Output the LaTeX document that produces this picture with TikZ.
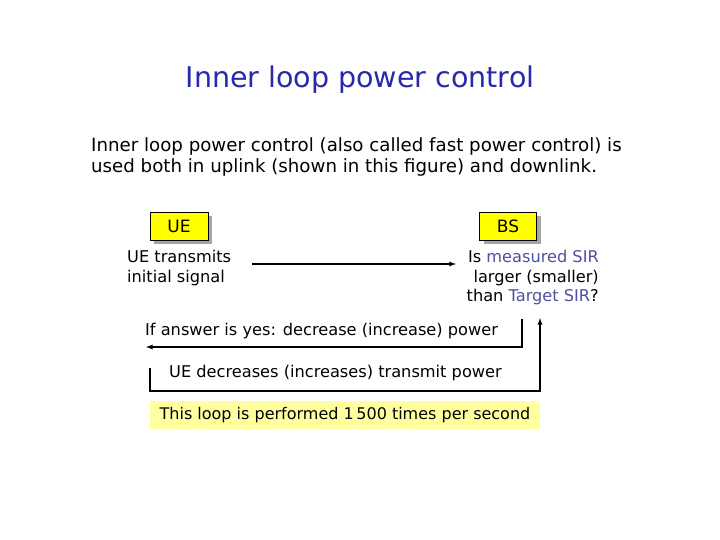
\documentclass[tikz,border=0pt]{standalone}
\usepackage{fontspec}
\setmainfont{DejaVu Sans}
\definecolor{tblue}{RGB}{40,40,170}
\definecolor{sblue}{RGB}{80,80,160}
\definecolor{boxy}{RGB}{255,255,0}
\definecolor{hly}{RGB}{255,255,160}
\begin{document}
\begin{tikzpicture}[x=1pt,y=-1pt,
  lbl/.style={font=\fontsize{16.2}{20}\selectfont, inner sep=0pt},
  tag/.style={draw=black, fill=boxy, minimum width=58pt, minimum height=28pt, font=\fontsize{17}{18}\selectfont, inner sep=0pt},
  shadow/.style={fill=gray!70, draw=none},
  thin/.style={line width=1.3pt,-latex},
  thick/.style={line width=2.8pt}]
\useasboundingbox[fill=white] (0,0) rectangle (720,540);
\node[text=tblue, font=\fontsize{28.5}{30}\selectfont] (title) at (360,80) {Inner loop power control};
\node[lbl, anchor=west, align=left, font=\fontsize{18.2}{21.5}\selectfont] (intro) at (91,157) {Inner loop power control (also called fast power control) is\\used both in uplink (shown in this figure) and downlink.};
\fill[shadow] (154,216) rectangle (212,244);
\node[tag] (ue) at (179,226) {UE};
\fill[shadow] (484,216) rectangle (541,244);
\node[tag, minimum width=57pt] (bs) at (508,226) {BS};
\node[lbl, anchor=north west, align=left] (uet) at (127,250) {UE transmits\\initial signal};
\node[lbl, anchor=north east, align=right, font=\fontsize{16.2}{19.5}\selectfont] (bst) at (599,250) {Is \textcolor{sblue}{measured SIR}\\larger (smaller)\\than \textcolor{sblue}{Target SIR}?};
\coordinate (a1) at (252,264);
\coordinate (a2) at (456,264);
\draw[thin] (a1) -- (a2);
\node[lbl, anchor=west] (ans) at (145,331) {If answer is yes: decrease (increase) power};
\coordinate (b1) at (522,319);
\coordinate (b2) at (522,347);
\coordinate (b3) at (146,347);
\draw[line width=2.5pt] (b1) -- (b2) -- (160,347);
\draw[line width=1.3pt,-latex] (160,347) -- (b3);
\node[lbl, anchor=west] (dec) at (169,373) {UE decreases (increases) transmit power};
\coordinate (c1) at (150,368);
\coordinate (c4) at (540,318);
\draw[thick] (c1) -- (150,391) -- (540,391) -- (540,330);
\draw[line width=1.3pt,-latex] (540,332) -- (c4);
\node[fill=hly, minimum width=390pt, minimum height=28pt, inner sep=0pt, font=\fontsize{16}{18}\selectfont] (loop) at (345,415) {This loop is performed 1\,500 times per second};
\end{tikzpicture}
\end{document}
